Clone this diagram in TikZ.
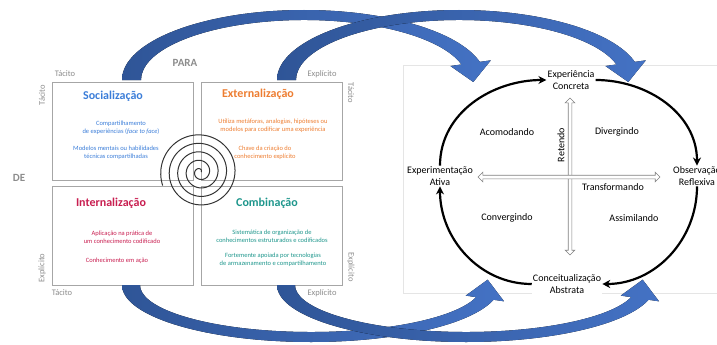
\documentclass[tikz,border=0pt]{standalone}
\usepackage{fontspec}
\setmainfont{Carlito}
\usetikzlibrary{positioning}
\usetikzlibrary{calc}
\usetikzlibrary{arrows.meta}
\usetikzlibrary{shapes.arrows}
\definecolor{socblue}{RGB}{59,125,216}
\definecolor{extorange}{RGB}{237,125,49}
\definecolor{intred}{RGB}{200,30,80}
\definecolor{combteal}{RGB}{30,150,140}
\definecolor{labgray}{RGB}{140,140,140}
\definecolor{boxgray}{RGB}{166,166,166}
\definecolor{arrdark}{RGB}{47,85,151}
\definecolor{arrlight}{RGB}{68,114,196}
\tikzset{quad/.style={draw=boxgray, line width=1pt, inner sep=0pt}}
\tikzset{qtitle/.style={font=\fontsize{12}{14}\selectfont\bfseries}}
\tikzset{qtext/.style={font=\fontsize{6.5}{7.8}\selectfont, align=center}}
\tikzset{side/.style={font=\fontsize{8.5}{10}\selectfont, text=labgray}}
\tikzset{big/.style={font=\fontsize{11}{13}\selectfont\bfseries, text=labgray}}
\tikzset{stage/.style={font=\fontsize{10}{11.5}\selectfont, align=center, fill=white, inner sep=1pt}}
\tikzset{mode/.style={font=\fontsize{10}{12}\selectfont}}
\tikzset{cyc/.style={line width=2.2pt, -{Stealth[length=8pt,width=8pt]}}}
\tikzset{axisarrow/.style={double arrow, draw=gray, fill=white, line width=0.6pt,
  inner xsep=0pt, inner ysep=1.5pt, minimum width=9pt, double arrow head extend=3pt}}

% curved block arrow: centre, x radii (out/in), y radii (out/in), end angle, turn
\newcommand{\flowarrow}[8]{%
  \coordinate (po) at ($(#1,#2)+(#7:#3 and #5)$);
  \coordinate (pi) at ($(#1,#2)+(#7:#4 and #6)$);
  \coordinate (pm) at ($(po)!0.5!(pi)$);
  \fill[left color=arrdark, right color=arrlight]
    ($(#1,#2)+(180:#3 and #5)$) arc[start angle=180, end angle=#7, x radius=#3, y radius=#5]
    -- ($(po)!-0.6!(pi)$) -- ($(pm)!19pt!#8:(po)$) -- ($(pi)!-0.6!(po)$) -- (pi)
    arc[start angle=#7, end angle=180, x radius=#4, y radius=#6] -- cycle;
}

\begin{document}
\begin{tikzpicture}[x=1pt, y=1pt]
\useasboundingbox (0,0) rectangle (717,-345);

% Kolb panel
\draw[gray!20, line width=0.6pt] (403,-65) rectangle (730,-293);

% SECI quadrants
\node[quad, minimum width=141, minimum height=98] (soc) at (122.5,-131) {};
\node[quad, minimum width=141, minimum height=98] (ext) at (271.5,-131) {};
\node[quad, minimum width=141, minimum height=99] (int) at (122.5,-235.5) {};
\node[quad, minimum width=141, minimum height=99] (comb) at (271.5,-235.5) {};

\node[qtitle, text=socblue] (socT) at (113,-96) {Socialização};
\node[qtext, text=socblue] (socA) at (121,-127.5) {Compartilhamento\\de experiências (\textit{face to face})};
\node[qtext, text=socblue] (socB) at (116,-153) {Modelos mentais ou habilidades\\técnicas compartilhadas};

\node[qtitle, text=extorange] (extT) at (258,-94) {Externalização};
\node[qtext, text=extorange] (extA) at (273,-126) {Utiliza metáforas, analogias, hipóteses ou\\modelos para codificar uma experiência};
\node[qtext, text=extorange] (extB) at (265,-153) {Chave da criação do\\conhecimento explícito};

\node[qtitle, text=intred] (intT) at (111,-203) {Internalização};
\node[qtext, text=intred] (intA) at (122,-237) {Aplicação na prática de\\um conhecimento codificado};
\node[qtext, text=intred] (intB) at (117,-261) {Conhecimento em ação};

\node[qtitle, text=combteal] (combT) at (267,-203) {Combinação};
\node[qtext, text=combteal] (combA) at (272,-236) {Sistemática de organização de\\conhecimentos estruturados e codificados};
\node[qtext, text=combteal] (combB) at (273,-259.5) {Fortemente apoiada por tecnologias\\de armazenamento e compartilhamento};

% axis labels
\node[side] (t1) at (65,-74) {Tácito};
\node[side] (e1) at (322,-74) {Explícito};
\node[side] (t2) at (62,-293) {Tácito};
\node[side] (e2) at (322,-293) {Explícito};
\node[side, rotate=90] (t3) at (42,-95) {Tácito};
\node[side, rotate=90] (e3) at (42,-268) {Explícito};
\node[side, rotate=-90] (t4) at (351,-93) {Tácito};
\node[side, rotate=-90] (e4) at (351,-267) {Explícito};
\node[big] (para) at (185,-63) {PARA};
\node[big] (de) at (19,-178) {DE};

% spiral
\draw[black!80, line width=1pt] plot[domain=0:1640, samples=400, smooth]
  ({200+(1+8.5*\x/360)*cos(\x)}, {-172+(1+8.5*\x/360)*sin(\x)});

% blue arrows
\flowarrow{304}{-80}{182}{163}{70}{60}{15}{-90}
\flowarrow{459}{-80}{182}{163}{70}{60}{15}{-90}
\flowarrow{311}{-285}{189}{171}{57}{47}{345}{90}
\flowarrow{466}{-285}{189}{171}{57}{47}{345}{90}

% Kolb cycle
\node[axisarrow, minimum height=157, rotate=90] (vaxis) at (570,-176.5) {};
\node[axisarrow, minimum height=182] (haxis) at (569,-177) {};

\node[stage] (ec) at (571,-80) {Experiência\\Concreta};
\node[stage] (ea) at (440,-176) {Experimentação\\Ativa};
\node[stage] (or) at (697,-176) {Observação\\Reflexiva};
\node[stage] (ca) at (567,-284) {Conceitualização\\Abstrata};

\node[mode] (acom) at (507,-132) {Acomodando};
\node[mode] (div) at (617,-132) {Divergindo};
\node[mode, rotate=90] (ret) at (561,-145) {Retendo};
\node[mode] (transf) at (613,-187) {Transformando};
\node[mode] (conv) at (507,-218) {Convergindo};
\node[mode] (assim) at (634,-218) {Assimilando};

\draw[cyc] (ea.north) to[out=90, in=180] (ec.west);
\draw[cyc] (ec.east) to[out=0, in=90] (or.north);
\draw[cyc] (or.south) to[out=-90, in=0] (ca.east);
\draw[cyc] (ca.west) to[out=180, in=-90] (ea.south);
\end{tikzpicture}
\end{document}
